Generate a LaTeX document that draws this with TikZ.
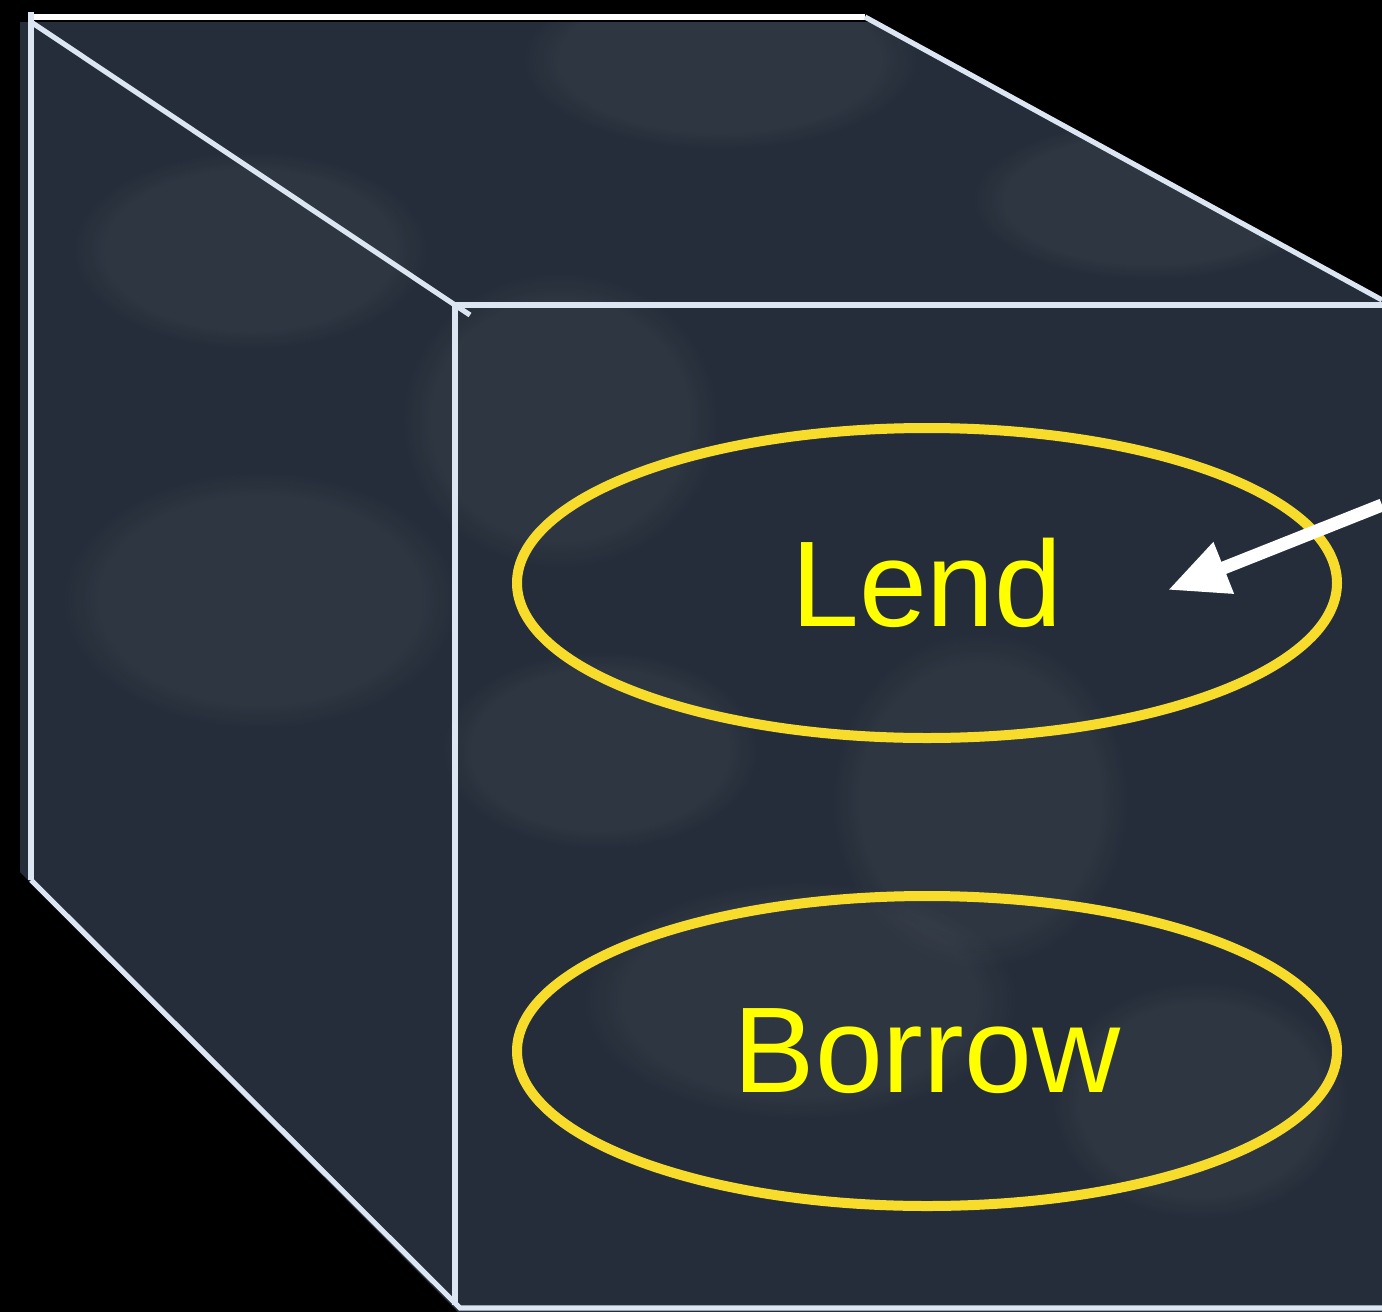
\documentclass[tikz,border=0pt]{standalone}
\usepackage{fontspec}
\setmainfont{Liberation Sans}
\usetikzlibrary{shapes.geometric,arrows.meta,fadings}
\definecolor{bgslate}{RGB}{36,45,57}
\definecolor{edgecol}{RGB}{220,230,242}
\definecolor{ringcol}{RGB}{247,220,44}
\definecolor{txtcol}{RGB}{255,255,0}
\tikzset{
  edge/.style={edgecol, line width=2.6pt},
  ring/.style={ellipse, draw=ringcol, line width=5pt, minimum width=410pt, minimum height=155pt, inner sep=0pt, text=txtcol, font=\fontsize{61}{62}\selectfont},
  blob/.style={fill=white, fill opacity=0.045, path fading=circle with fuzzy edge 20 percent},
  pointer/.style={white, line width=6.5pt, -{Triangle[length=30pt,width=26pt]}}
}
\begin{document}
\begin{tikzpicture}[x=0.5pt,y=-0.5pt]
\useasboundingbox (0,0) rectangle (1382,1312);
\fill[black] (0,0) rectangle (1382,1312);
% cube body
\fill[bgslate] (20,22) -- (878,22) -- (1382,298) -- (1382,1312) -- (458,1312) -- (20,872) -- cycle;
\begin{scope}
\clip (20,22) -- (878,22) -- (1382,298) -- (1382,1312) -- (458,1312) -- (20,872) -- cycle;
\fill[blob] (720,60) ellipse (200 and 90);
\fill[blob] (560,420) ellipse (160 and 150);
\fill[blob] (980,800) ellipse (150 and 170);
\fill[blob] (260,600) ellipse (200 and 130);
\fill[blob] (1150,200) ellipse (180 and 80);
\fill[blob] (800,1000) ellipse (220 and 120);
\fill[blob] (250,250) ellipse (180 and 100);
\fill[blob] (1200,1100) ellipse (150 and 120);
\fill[blob] (600,750) ellipse (160 and 100);
\end{scope}
% corners
\coordinate (tl) at (31,22);
\coordinate (tt) at (28,17);
\coordinate (tr) at (865,17);
\coordinate (rr) at (1382,300);
\coordinate (ftl) at (455,305);
\coordinate (ftx) at (470,315);
\coordinate (ftr) at (1382,305);
\coordinate (fbl) at (455,1305);
\coordinate (fbc) at (460,1308);
\coordinate (fbr) at (1382,1308);
\coordinate (bl) at (31,880);
\coordinate (tick) at (31,12);
% edges
\draw[white, line width=2.6pt] (tt) -- (tr);
\draw[edge] (tick) -- (bl);
\draw[edge] (tr) -- (rr);
\draw[edge] (tl) -- (ftx);
\draw[edge] (ftl) -- (ftr);
\draw[edge] (ftl) -- (fbl);
\draw[edge] (bl) -- (fbc) -- (fbr);
% labels
\node[ring] (lend) at (927,583) {Lend};
\node[ring] (borrow) at (927,1051) {Borrow};
% arrow
\coordinate (astart) at (1382,505);
\coordinate (atip) at (1168,590);
\draw[pointer] (astart) -- (atip);
\end{tikzpicture}
\end{document}
